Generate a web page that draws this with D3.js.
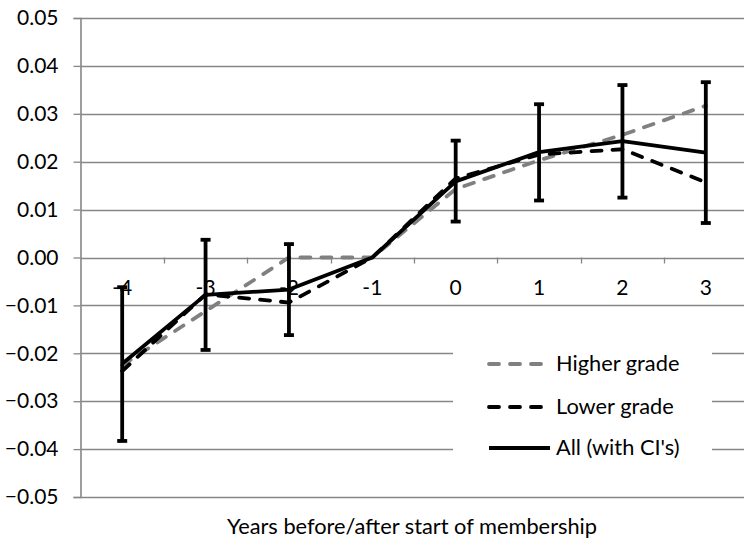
<!DOCTYPE html>
<html>
<head>
<meta charset="utf-8">
<script src="https://cdn.jsdelivr.net/npm/d3@7"></script>
<style>
  html, body { margin: 0; padding: 0; background: #fff; }
  svg { display: block; }
  text { font-family: Lato, "Open Sans", sans-serif; fill: #000; }
</style>
</head>
<body>
<svg id="chart" width="744" height="545"></svg>
<script>
// ---- data ----
const categories = ["-4", "-3", "-2", "-1", "0", "1", "2", "3"];
const higherGrade = [-0.0225, -0.0112, 0.0000, 0.0000, 0.0143, 0.0203, 0.0256, 0.0317];
const lowerGrade  = [-0.0237, -0.0077, -0.0094, 0.0000, 0.0165, 0.0215, 0.0226, 0.0157];
const allSeries   = [-0.0222, -0.0078, -0.0067, 0.0000, 0.0159, 0.0220, 0.0243, 0.0219];
const ciLow  = [-0.0383, -0.0193, -0.0162, null, 0.0075, 0.0119, 0.0125, 0.0072];
const ciHigh = [-0.0062,  0.0037,  0.0028, null, 0.0244, 0.0320, 0.0360, 0.0366];
const yTicks = [0.05, 0.04, 0.03, 0.02, 0.01, 0.00, -0.01, -0.02, -0.03, -0.04, -0.05];
const legendLabels = ["Higher grade", "Lower grade", "All (with CI's)"];
const xTitle = "Years before/after start of membership";

// ---- layout ----
const svg = d3.select("#chart");
const pLeft = 80.5, pRight = 747.5, pTop = 18, pBottom = 497;
const grid = "#878787";

svg.append("rect").attr("width", 744).attr("height", 545).attr("fill", "#fff");

const x = d3.scaleBand().domain(categories).range([pLeft, pRight]);
const y = d3.scaleLinear().domain([-0.05, 0.05]).range([pBottom, pTop]);
const cx = c => x(c) + x.bandwidth() / 2;

// gridlines
svg.append("g").selectAll("line").data(yTicks).join("line")
  .attr("x1", pLeft).attr("x2", pRight)
  .attr("y1", d => Math.round(y(d)) + 0.5).attr("y2", d => Math.round(y(d)) + 0.5)
  .attr("stroke", grid).attr("stroke-width", 1.3);

// y axis
const yAxis = d3.axisLeft(y).tickValues(yTicks).tickSize(7).tickPadding(15)
  .tickFormat(d3.format(".2f"));
const gy = svg.append("g").attr("transform", `translate(${pLeft},0)`).call(yAxis);
gy.select(".domain").attr("stroke", grid).attr("stroke-width", 1.6);
gy.selectAll(".tick line").attr("stroke", grid).attr("stroke-width", 1.3);
gy.selectAll(".tick text").style("font-size", "21px").style("font-family", "Lato").attr("fill", "#000");

// x axis at y = 0
const xAxis = d3.axisBottom(x).tickSize(0).tickPadding(22);
const gx = svg.append("g").attr("transform", `translate(0,${Math.round(y(0)) + 0.5})`).call(xAxis);
gx.select(".domain").remove();
gx.selectAll(".tick text").style("font-size", "21px").style("font-family", "Lato").attr("fill", "#000");
// category boundary tick marks
const bounds = categories.slice(1).map(c => x(c));
svg.append("g").selectAll("line").data(bounds).join("line")
  .attr("x1", d => Math.round(d) + 0.5).attr("x2", d => Math.round(d) + 0.5)
  .attr("y1", y(0)).attr("y2", y(0) + 6)
  .attr("stroke", grid).attr("stroke-width", 1.3);

// axis title
svg.append("text").attr("x", (pLeft + pRight) / 2 - 2).attr("y", 534)
  .attr("text-anchor", "middle").style("font-size", "21.8px").text(xTitle);

// lines
const line = d3.line().x((d, i) => cx(categories[i])).y(d => y(d));
svg.append("path").datum(higherGrade).attr("d", line).attr("fill", "none")
  .attr("stroke", "#808080").attr("stroke-width", 3.8)
  .attr("stroke-dasharray", "10,11").attr("stroke-linecap", "round");
svg.append("path").datum(lowerGrade).attr("d", line).attr("fill", "none")
  .attr("stroke", "#000").attr("stroke-width", 3.8)
  .attr("stroke-dasharray", "10,11").attr("stroke-linecap", "round");
svg.append("path").datum(allSeries).attr("d", line).attr("fill", "none")
  .attr("stroke", "#000").attr("stroke-width", 3.8).attr("stroke-linejoin", "round");

// error bars
const eb = categories.map((c, i) => ({c, lo: ciLow[i], hi: ciHigh[i]})).filter(d => d.lo !== null);
const ge = svg.append("g").attr("stroke", "#000");
ge.selectAll("line.v").data(eb).join("line").attr("class", "v")
  .attr("x1", d => cx(d.c)).attr("x2", d => cx(d.c))
  .attr("y1", d => y(d.hi)).attr("y2", d => y(d.lo)).attr("stroke-width", 3.8);
ge.selectAll("line.ch").data(eb).join("line").attr("class", "ch")
  .attr("x1", d => cx(d.c) - 5).attr("x2", d => cx(d.c) + 5)
  .attr("y1", d => y(d.hi)).attr("y2", d => y(d.hi)).attr("stroke-width", 3.8);
ge.selectAll("line.cl").data(eb).join("line").attr("class", "cl")
  .attr("x1", d => cx(d.c) - 5).attr("x2", d => cx(d.c) + 5)
  .attr("y1", d => y(d.lo)).attr("y2", d => y(d.lo)).attr("stroke-width", 3.8);

// legend
const lg = svg.append("g");
lg.append("rect").attr("x", 453).attr("y", 340).attr("width", 259).attr("height", 130).attr("fill", "#fff");
const legendItems = [
  {label: legendLabels[0], color: "#808080", dash: "10,11", x2: 541, yy: 364},
  {label: legendLabels[1], color: "#000", dash: "10,11", x2: 541, yy: 407},
  {label: legendLabels[2], color: "#000", dash: null, x2: 550, yy: 448}
];
legendItems.forEach(d => {
  const l = lg.append("line").attr("x1", 489).attr("x2", d.x2).attr("y1", d.yy).attr("y2", d.yy)
    .attr("stroke", d.color).attr("stroke-width", 3.8);
  if (d.dash) l.attr("stroke-dasharray", d.dash).attr("stroke-linecap", "round");
  lg.append("text").attr("x", 556).attr("y", d.yy + 7).style("font-size", "21.8px").text(d.label);
});
</script>
</body>
</html>
